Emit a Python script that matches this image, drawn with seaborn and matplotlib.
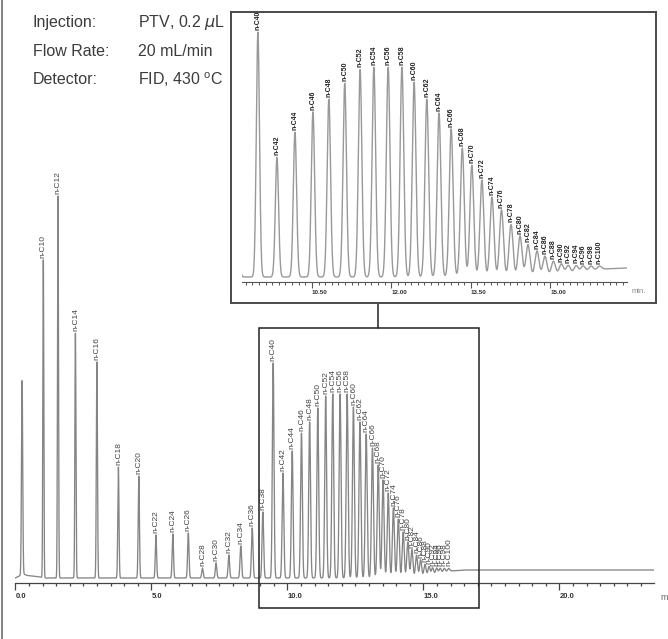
import numpy as np
import pandas as pd
import matplotlib
matplotlib.use("Agg")
import matplotlib.pyplot as plt
from matplotlib.patches import Rectangle
from matplotlib.lines import Line2D
from matplotlib.ticker import MultipleLocator, FormatStrFormatter
import seaborn as sns

# ── Peaks (retention time in min, height above baseline) ──
PEAK_NAMES = ["n-C10", "n-C12", "n-C14", "n-C16", "n-C18", "n-C20", "n-C22", "n-C24",
              "n-C26", "n-C28", "n-C30", "n-C32", "n-C34", "n-C36", "n-C38", "n-C40",
              "n-C42", "n-C44", "n-C46", "n-C48", "n-C50", "n-C52", "n-C54", "n-C56",
              "n-C58", "n-C60", "n-C62", "n-C64", "n-C66", "n-C68", "n-C70", "n-C72",
              "n-C74", "n-C76", "n-C78", "n-C80", "n-C82", "n-C84", "n-C86", "n-C88",
              "n-C90", "n-C92", "n-C94", "n-C96", "n-C98", "n-C100"]
PEAK_TIMES = [1.03, 1.57, 2.21, 3.00, 3.79, 4.54, 5.17, 5.79,
              6.36, 6.88, 7.38, 7.85, 8.29, 8.71, 9.10, 9.48,
              9.84, 10.18, 10.52, 10.82, 11.12, 11.41, 11.67, 11.94,
              12.20, 12.43, 12.67, 12.90, 13.13, 13.34, 13.52, 13.71,
              13.90, 14.08, 14.26, 14.43, 14.58, 14.75, 14.90, 15.06,
              15.21, 15.34, 15.49, 15.62, 15.77, 15.93]
PEAK_HEIGHTS = [318, 382, 245, 216, 111, 102, 43, 44,
                45, 10, 15, 23, 32, 50, 66, 215,
                105, 127, 145, 156, 170, 182, 184, 184,
                184, 171, 156, 144, 130, 113, 98, 85,
                70, 59, 46, 36, 28, 22, 17, 12,
                9, 7, 6, 5, 4, 3]

SOLVENT_TIME = 0.25
SOLVENT_HEIGHT = 194

# baseline drift (solvent tail, column bleed at the end)
BASE_T = [0.0, 0.30, 0.45, 0.80, 1.10, 14.4, 15.0, 15.5, 16.0, 16.5, 23.5]
BASE_Y = [0.0, 4.0, 2.5, 1.5, 0.0, 0.0, 1.5, 4.0, 7.0, 8.0, 8.0]

MAIN_TICKS = [0, 5, 10, 15, 20]
INFO_LABELS = ["Injection:", "Flow Rate:", "Detector:"]
INFO_VALUES = ["PTV, 0.2 $\\mu$L", "20 mL/min", "FID, 430 $^{\\mathregular{o}}$C"]

# ── Build the detector trace ─────────────────────────────────────────────────
t = np.linspace(0, 23.5, 14000)
signal = np.interp(t, BASE_T, BASE_Y)
signal += SOLVENT_HEIGHT * np.exp(-0.5 * ((t - SOLVENT_TIME) / 0.022) ** 2)
for rt, h in zip(PEAK_TIMES, PEAK_HEIGHTS):
    sig = 0.016 + 0.0015 * rt
    signal += h * np.exp(-0.5 * ((t - rt) / sig) ** 2)
df = pd.DataFrame({"time": t, "signal": signal})
tops = np.interp(PEAK_TIMES, t, signal)

sns.set_style("white")
NARROW = ["Liberation Sans Narrow", "Liberation Sans", "DejaVu Sans"]
plt.rcParams["font.family"] = NARROW

W, H = 668, 639
fx = lambda px: px / W
fy = lambda py: 1 - py / H

fig = plt.figure(figsize=(6.68, 6.39), dpi=100)

# ── Main chromatogram ────────────────────────────────────────────────────────
ax = fig.add_axes([fx(15.3), fy(583), fx(654) - fx(15.3), fy(140) - fy(583)])
sns.lineplot(data=df, x="time", y="signal", ax=ax, color="#858585", lw=0.95,
             estimator=None, sort=False)
ax.set_xlim(0, 23.48)
ax.set_ylim(-5, 438)
ax.set_xlabel("")
ax.set_ylabel("")
ax.set_yticks([])
for s in ["left", "right", "top"]:
    ax.spines[s].set_visible(False)
ax.spines["bottom"].set_color("#444")
ax.spines["bottom"].set_linewidth(0.9)
ax.set_xticks(MAIN_TICKS, [f"{v:.1f}" for v in MAIN_TICKS])
ax.xaxis.set_minor_locator(MultipleLocator(0.5))
ax.tick_params(axis="x", which="major", bottom=True, length=5, width=0.9, color="#444",
               labelsize=5.5, labelcolor="#333", pad=2)
ax.tick_params(axis="x", which="minor", bottom=True, length=2.5, width=0.9, color="#444")
for lbl in ax.get_xticklabels():
    lbl.set_horizontalalignment("left")
    lbl.set_fontweight("bold")

for name, rt, top in zip(PEAK_NAMES, PEAK_TIMES, tops):
    ax.text(rt, top + 2, name, rotation=90, ha="center", va="bottom",
            fontsize=6, color="#444")

# zoom box + connector
ax.add_patch(Rectangle((8.96, -30), 17.05 - 8.96, 280, fill=False, ec="#222",
                       lw=1.1, clip_on=False, zorder=5))
ax.add_line(Line2D([13.33, 13.33], [250, 275], color="#222", lw=1.1, clip_on=False))
fig.text(fx(660), fy(597), "min.", fontsize=6.5, color="#666", va="center", ha="left")

# ── Inset ────────────────────────────────────────────────────────────────────
frame = fig.add_axes([fx(231), fy(303), fx(656) - fx(231), fy(12) - fy(303)])
frame.set_xticks([])
frame.set_yticks([])
frame.set_facecolor("white")
for s in frame.spines.values():
    s.set_color("#4a4a4a")
    s.set_linewidth(1.4)

ia = fig.add_axes([fx(242), fy(282), fx(627) - fx(242), fy(20) - fy(282)])
ia.set_facecolor("none")
sns.lineplot(data=df, x="time", y="signal", ax=ia, color="#999999", lw=1.0,
             estimator=None, sort=False)
ia.set_xlim(9.18, 16.45)
ia.set_ylim(-4.4, 225.6)
ia.set_xlabel("")
ia.set_ylabel("")
ia.set_yticks([])
for s in ["left", "right", "top"]:
    ia.spines[s].set_visible(False)
ia.spines["bottom"].set_color("#555")
ia.spines["bottom"].set_linewidth(0.8)
ia.xaxis.set_major_locator(MultipleLocator(1.5))
ia.xaxis.set_major_formatter(FormatStrFormatter("%.2f"))
ia.xaxis.set_minor_locator(MultipleLocator(0.125))
ia.tick_params(axis="x", which="major", bottom=True, length=4, width=0.8, color="#555",
               labelsize=4.5, labelcolor="#333", pad=2)
ia.tick_params(axis="x", which="minor", bottom=True, length=2, width=0.7, color="#555")
for lbl in ia.get_xticklabels():
    lbl.set_horizontalalignment("left")
    lbl.set_fontweight("bold")

for name, rt, top in zip(PEAK_NAMES, PEAK_TIMES, tops):
    if rt > 9.3:
        ia.text(rt, top + 2, name, rotation=90, ha="center", va="bottom",
                fontsize=5, color="#222", fontweight="bold")
fig.text(fx(632), fy(292), "min.", fontsize=5.5, color="#888", va="center")

# ── Method conditions ────────────────────────────────────────────────────────
for i, (lab, val) in enumerate(zip(INFO_LABELS, INFO_VALUES)):
    y = fy(22 + i * 29)
    fig.text(fx(33), y, lab, fontsize=11.5, color="#3c3c3c", va="center")
    fig.text(fx(138), y, val, fontsize=11.5, color="#3c3c3c", va="center")

fig.add_artist(Line2D([fx(1.5), fx(1.5)], [0, 1], color="#777", lw=1.3))

fig.savefig("out.png", dpi=100)
